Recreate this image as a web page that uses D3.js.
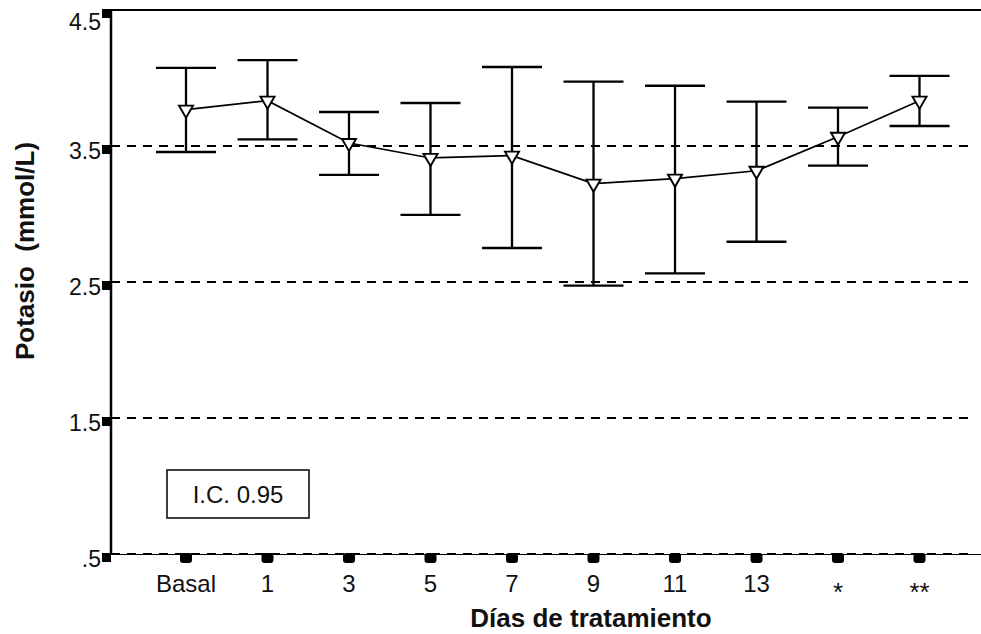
<!DOCTYPE html>
<html>
<head>
<meta charset="utf-8">
<script src="https://cdn.jsdelivr.net/npm/d3@7"></script>
<style>
  body { margin: 0; background: #fff; }
  svg { display: block; font-family: "Liberation Sans", Arial, sans-serif; }
</style>
</head>
<body>
<svg id="chart" width="981" height="634"></svg>
<script>
// categories (treatment days) and values
var days = ["Basal", "1", "3", "5", "7", "9", "11", "13", "*", "**"];
var means = [3.767, 3.833, 3.522, 3.412, 3.429, 3.223, 3.26, 3.318, 3.568, 3.833];
var upper = [4.074, 4.132, 3.75, 3.816, 4.081, 3.973, 3.943, 3.826, 3.782, 4.015];
var lower = [3.456, 3.549, 3.287, 2.993, 2.75, 2.473, 2.564, 2.796, 3.355, 3.647];
var yTicks = [0.5, 1.5, 2.5, 3.5, 4.5];
var yTickLabels = [".5", "1.5", "2.5", "3.5", "4.5"];
var gridValues = [0.5, 1.5, 2.5, 3.5];

var svg = d3.select("#chart"),
    plotL = 111, plotR = 981, plotT = 10, plotB = 554;

var x = d3.scalePoint().domain(days).range([186, 919.5]);
var y = d3.scaleLinear().domain([0.5, 4.5]).range([plotB, plotT]);

// dashed reference lines
svg.selectAll(".grid")
  .data(gridValues)
  .enter().append("line")
  .attr("x1", plotL).attr("x2", 975)
  .attr("y1", function(d) { return y(d); })
  .attr("y2", function(d) { return y(d); })
  .attr("stroke", "#000")
  .attr("stroke-width", 2)
  .attr("stroke-dasharray", "9,7");

// frame: left axis, top line, bottom axis
svg.append("line").attr("x1", plotL).attr("x2", plotL).attr("y1", plotT).attr("y2", plotB + 1)
  .attr("stroke", "#000").attr("stroke-width", 2.5);
svg.append("line").attr("x1", plotL).attr("x2", plotR).attr("y1", plotT).attr("y2", plotT)
  .attr("stroke", "#000").attr("stroke-width", 2);
svg.append("line").attr("x1", plotL).attr("x2", plotR).attr("y1", plotB + 0.5).attr("y2", plotB + 0.5)
  .attr("stroke", "#000").attr("stroke-width", 1.2);

// y tick squares and labels
svg.selectAll(".ytick")
  .data(yTicks)
  .enter().append("rect")
  .attr("x", 102).attr("y", function(d) { return y(d) - 1; })
  .attr("width", 9).attr("height", 9)
  .attr("fill", "#000");

svg.selectAll(".ylab")
  .data(yTicks)
  .enter().append("text")
  .attr("x", 101)
  .attr("y", function(d) { return Math.max(y(d) + 13, 30); })
  .attr("text-anchor", "end")
  .attr("font-size", "23px")
  .attr("fill", "#111")
  .text(function(d, i) { return yTickLabels[i]; });

// x tick marks and labels
svg.selectAll(".xtick")
  .data(days)
  .enter().append("rect")
  .attr("x", function(d) { return x(d) - 6; })
  .attr("y", plotB - 1)
  .attr("width", 12).attr("height", 10)
  .attr("rx", 3)
  .attr("fill", "#000");

svg.selectAll(".xlab")
  .data(days)
  .enter().append("text")
  .attr("x", function(d) { return x(d); })
  .attr("y", function(d) { return d.indexOf("*") === 0 ? 601 : 592; })
  .attr("text-anchor", "middle")
  .attr("font-size", function(d) { return d.indexOf("*") === 0 ? "26px" : "24px"; })
  .attr("fill", "#111")
  .text(function(d) { return d; });

// error bars
var bars = svg.selectAll(".bar")
  .data(days)
  .enter().append("g");

bars.append("line")
  .attr("x1", function(d) { return x(d); })
  .attr("x2", function(d) { return x(d); })
  .attr("y1", function(d, i) { return y(upper[i]); })
  .attr("y2", function(d, i) { return y(lower[i]); })
  .attr("stroke", "#000").attr("stroke-width", 2.3);

bars.append("line")
  .attr("x1", function(d) { return x(d) - 30; })
  .attr("x2", function(d) { return x(d) + 30; })
  .attr("y1", function(d, i) { return y(upper[i]); })
  .attr("y2", function(d, i) { return y(upper[i]); })
  .attr("stroke", "#000").attr("stroke-width", 2.3);

bars.append("line")
  .attr("x1", function(d) { return x(d) - 30; })
  .attr("x2", function(d) { return x(d) + 30; })
  .attr("y1", function(d, i) { return y(lower[i]); })
  .attr("y2", function(d, i) { return y(lower[i]); })
  .attr("stroke", "#000").attr("stroke-width", 2.3);

// mean line
var line = d3.line()
  .x(function(d, i) { return x(days[i]); })
  .y(function(d) { return y(d); });

svg.append("path")
  .datum(means)
  .attr("d", line)
  .attr("fill", "none")
  .attr("stroke", "#000")
  .attr("stroke-width", 1.7);

// inverted triangle markers
var tri = d3.symbol().type(d3.symbolTriangle).size(85);
svg.selectAll(".pt")
  .data(means)
  .enter().append("path")
  .attr("d", tri)
  .attr("transform", function(d, i) { return "translate(" + x(days[i]) + "," + y(d) + ") rotate(180)"; })
  .attr("fill", "#fff")
  .attr("stroke", "#000")
  .attr("stroke-width", 1.9);

// legend box
svg.append("rect")
  .attr("x", 167).attr("y", 470).attr("width", 142).attr("height", 48)
  .attr("fill", "#fff").attr("stroke", "#000").attr("stroke-width", 1.5);
svg.append("text")
  .attr("x", 238).attr("y", 503)
  .attr("text-anchor", "middle")
  .attr("font-size", "24px")
  .attr("fill", "#111")
  .text("I.C. 0.95");

// axis titles
svg.append("text")
  .attr("x", 591).attr("y", 627)
  .attr("text-anchor", "middle")
  .attr("font-size", "26px")
  .attr("font-weight", "bold")
  .attr("fill", "#111")
  .text("Días de tratamiento");

svg.append("text")
  .attr("transform", "translate(34,251) rotate(-90)")
  .attr("text-anchor", "middle")
  .attr("font-size", "26px")
  .attr("font-weight", "bold")
  .attr("fill", "#111")
  .style("white-space", "pre")
  .text("Potasio  (mmol/L)");
</script>
</body>
</html>
